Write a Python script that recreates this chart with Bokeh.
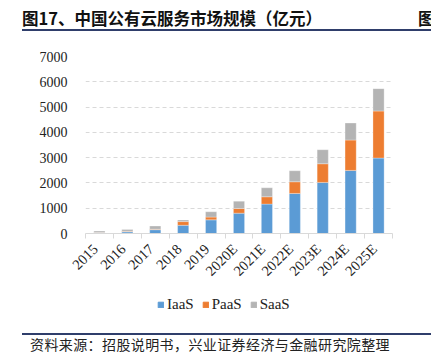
import math
from bokeh.plotting import figure
from bokeh.models import (ColumnDataSource, Range1d, LinearAxis, FixedTicker, Legend, LegendItem, Div)
from bokeh.layouts import column
from bokeh.embed import file_html
from bokeh.resources import INLINE

years = ["2015", "2016", "2017", "2018", "2019", "2020E", "2021E", "2022E", "2023E", "2024E", "2025E"]
iaas = [25, 65, 150, 325, 540, 805, 1162, 1584, 2020, 2495, 2983]
paas = [15, 20, 20, 145, 110, 185, 290, 462, 739, 1201, 1861]
saas = [55, 75, 125, 65, 210, 290, 356, 436, 554, 673, 885]
series = ["IaaS", "PaaS", "SaaS"]
colors = ["#5B9BD5", "#ED7D31", "#B4B4B4"]
yticks = [0, 1000, 2000, 3000, 4000, 5000, 6000, 7000]

title_text = "图17、中国公有云服务市场规模（亿元）"
source_text = "资料来源：招股说明书，兴业证券经济与金融研究院整理"

xs = [i + 0.5 for i in range(len(years))]
src = ColumnDataSource(dict(x=xs, IaaS=iaas, PaaS=paas, SaaS=saas))

W = 431
TITLE_H, FIG_H, LEG_H, FOOT_H = 33, 260, 37, 24

p = figure(width=W, height=FIG_H, output_backend="svg", toolbar_location=None,
           x_range=Range1d(0, len(years)), y_range=Range1d(0, 7000),
           x_axis_type=None, min_border_left=85, min_border_right=39,
           min_border_top=23, min_border_bottom=60, margin=0)
p.outline_line_color = None

rs = p.vbar_stack(series, x="x", width=0.4, source=src, color=colors,
                  line_color="#FFFFFF", line_width=0.5, line_alpha=0.6)

p.yaxis.ticker = FixedTicker(ticks=yticks)
p.yaxis.axis_line_color = None
p.yaxis.major_tick_line_color = None
p.yaxis.minor_tick_line_color = None
p.yaxis.major_label_text_font = "Liberation Serif"
p.yaxis.major_label_text_font_size = "14px"
p.yaxis.major_label_text_color = "#222222"
p.yaxis.major_label_standoff = 12
p.ygrid.ticker = FixedTicker(ticks=yticks[1:])
p.ygrid.grid_line_color = "#D9D9D9"
p.ygrid.grid_line_dash = "4 3"
p.xgrid.visible = False

bounds = list(range(len(years) + 1))
ax1 = LinearAxis(ticker=FixedTicker(ticks=bounds),
                 major_label_overrides={b: "" for b in bounds})
ax1.axis_line_color = "#D9D9D9"
ax1.major_tick_line_color = "#D9D9D9"
ax1.major_tick_out = 5
ax1.major_tick_in = 0
ax1.minor_tick_line_color = None
ax1.major_label_text_font_size = "2px"
ax1.major_label_standoff = 0
p.add_layout(ax1, "below")

label_pos = [x - 0.15 for x in xs]
ax2 = LinearAxis(ticker=FixedTicker(ticks=label_pos),
                 major_label_overrides={x: y for x, y in zip(label_pos, years)})
ax2.axis_line_color = None
ax2.major_tick_line_color = None
ax2.minor_tick_line_color = None
ax2.major_label_orientation = math.pi / 4
ax2.major_label_text_font = "Liberation Serif"
ax2.major_label_text_font_size = "14.5px"
ax2.major_label_text_color = "#222222"
ax2.major_label_standoff = 2
p.add_layout(ax2, "below")

# legend in its own strip below the chart (frame aligned with the chart's frame)
lf = figure(width=W, height=LEG_H, output_backend="svg", toolbar_location=None,
            x_axis_type=None, y_axis_type=None, min_border=0, margin=0,
            x_range=Range1d(0, 1), y_range=Range1d(0, 1))
lf.outline_line_color = None
lf.xgrid.visible = False
lf.ygrid.visible = False
lrs = [lf.vbar(x=[5], top=[0], width=0.1, color=c) for c in colors]
legend = Legend(items=[LegendItem(label=s, renderers=[r]) for s, r in zip(series, lrs)],
                orientation="horizontal", location=(72, 17),
                label_text_font="Liberation Serif", label_text_font_size="15px",
                label_text_color="#222222", glyph_width=7, glyph_height=7,
                label_standoff=3, spacing=8, border_line_color=None,
                background_fill_alpha=0, margin=0, padding=0)
lf.add_layout(legend)

title_html = (
    '<div style="position:relative;width:409px;height:31px;border-bottom:2px solid #2F3E6B;'
    'font-family:\'Noto Sans CJK SC\';font-weight:bold;font-size:16.5px;color:#111;">'
    '<span style="position:absolute;left:0;top:8px;line-height:20px;white-space:nowrap;">' + title_text + '</span>'
    '<span style="position:absolute;left:396px;top:8px;line-height:20px;">图</span></div>'
)
title_div = Div(text=title_html, width=W - 22, height=TITLE_H, margin=(0, 0, 0, 22))

foot_html = (
    '<div style="width:409px;height:21px;margin-top:3px;border-top:2px solid #2F3E6B;'
    'font-family:\'Noto Sans CJK SC\';font-size:14px;line-height:18px;color:#222;'
    'padding-left:8px;letter-spacing:0.4px;white-space:nowrap;">' + source_text + '</div>'
)
foot_div = Div(text=foot_html, width=W - 22, height=FOOT_H, margin=(0, 0, 0, 22))

layout = column(title_div, p, lf, foot_div, spacing=0, margin=0)

open("out.html", "w").write(file_html(layout, INLINE))
